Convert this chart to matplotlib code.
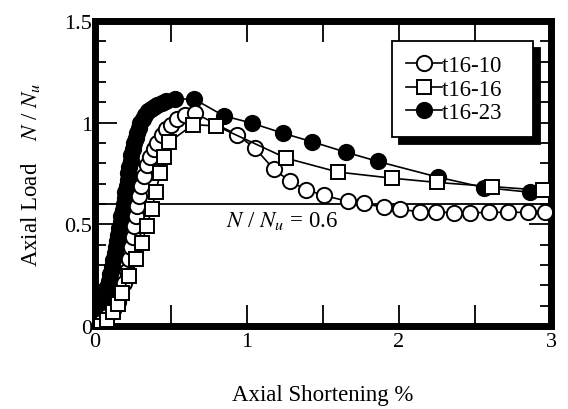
import matplotlib
matplotlib.use("Agg")
import matplotlib.pyplot as plt
from matplotlib.ticker import MultipleLocator, FuncFormatter

plt.rcParams['font.family'] = ['Liberation Serif', 'DejaVu Serif']
plt.rcParams['mathtext.fontset'] = 'stix'

# t16-10 (open circles)
x_10 = [0, 0.04, 0.08, 0.12, 0.15, 0.17, 0.19, 0.21, 0.225, 0.24, 0.25, 0.26, 0.27,
        0.28, 0.29, 0.305, 0.32, 0.34, 0.36, 0.39, 0.41, 0.44, 0.47, 0.50, 0.54, 0.594,
        0.66, 0.936, 1.054, 1.177, 1.285, 1.39, 1.507, 1.663, 1.769, 1.90, 2.01, 2.14,
        2.245, 2.36, 2.47, 2.59, 2.72, 2.85, 2.96]
y_10 = [0, 0.02, 0.05, 0.08, 0.12, 0.16, 0.21, 0.27, 0.33, 0.39, 0.44, 0.49, 0.54,
        0.59, 0.64, 0.69, 0.74, 0.79, 0.83, 0.87, 0.90, 0.94, 0.97, 0.99, 1.02, 1.038,
        1.046, 0.94, 0.874, 0.771, 0.711, 0.67, 0.642, 0.613, 0.603, 0.583, 0.575, 0.56,
        0.562, 0.556, 0.556, 0.559, 0.559, 0.559, 0.559]

# t16-16 (open squares)
x_16 = [0, 0.08, 0.12, 0.15, 0.18, 0.225, 0.27, 0.31, 0.34, 0.375, 0.40, 0.43, 0.455,
        0.49, 0.645, 0.80, 1.26, 1.60, 1.955, 2.25, 2.61, 2.95]
y_16 = [0, 0.03, 0.07, 0.11, 0.16, 0.245, 0.33, 0.41, 0.49, 0.576, 0.66, 0.75, 0.83,
        0.905, 0.99, 0.984, 0.825, 0.757, 0.727, 0.706, 0.686, 0.667]

# t16-23 (filled circles)
x_23 = [0, 0.02, 0.035, 0.05, 0.06, 0.07, 0.08, 0.09, 0.10, 0.11, 0.12, 0.13, 0.14,
        0.145, 0.155, 0.16, 0.17, 0.175, 0.185, 0.19, 0.195, 0.20, 0.21, 0.215, 0.22,
        0.225, 0.235, 0.24, 0.25, 0.26, 0.27, 0.28, 0.29, 0.30, 0.315, 0.33, 0.35, 0.37,
        0.39, 0.41, 0.44, 0.47, 0.524, 0.653, 0.847, 1.035, 1.238, 1.425, 1.65, 1.863,
        2.257, 2.56, 2.86]
y_23 = [0, 0.03, 0.07, 0.10, 0.13, 0.16, 0.19, 0.22, 0.255, 0.29, 0.325, 0.36, 0.39,
        0.42, 0.45, 0.48, 0.51, 0.54, 0.57, 0.60, 0.63, 0.66, 0.69, 0.72, 0.75, 0.78,
        0.81, 0.84, 0.87, 0.90, 0.925, 0.95, 0.975, 1.0, 1.02, 1.04, 1.055, 1.068,
        1.078, 1.087, 1.095, 1.105, 1.116, 1.116, 1.034, 0.997, 0.948, 0.907, 0.855, 0.809,
        0.732, 0.681, 0.658]

ref_level = 0.6

fig = plt.figure(figsize=(5.68, 4.10), dpi=100)
ax = fig.add_axes([0.167, 0.2024, 0.803, 0.744])

ax.axhline(ref_level, color='black', lw=1.3, zorder=1)

ms = 11
ax.plot(x_10, y_10, '-o', color='black', mfc='white', mec='black', mew=1.4, ms=ms, lw=1.2, label='t16-10   ', zorder=3)
ax.plot(x_16, y_16, '-s', color='black', mfc='white', mec='black', mew=1.4, ms=ms - 0.5, lw=1.2, label='t16-16   ', zorder=4)
ax.plot(x_23, y_23, '-o', color='black', mfc='black', mec='black', mew=1.4, ms=ms, lw=1.2, label='t16-23   ', zorder=2)

ax.text(0.86, 0.523, r'$N$ / $N_u$ = 0.6', fontsize=16.5, va='center', ha='left')

ax.set_xlim(0, 3)
ax.set_ylim(0, 1.5)
ax.xaxis.set_major_locator(MultipleLocator(1))
ax.xaxis.set_minor_locator(MultipleLocator(0.5))
ax.yaxis.set_major_locator(MultipleLocator(0.5))
ax.yaxis.set_minor_locator(MultipleLocator(0.1))
ax.yaxis.set_major_formatter(FuncFormatter(lambda v, p: f'{v:g}'))

ax.tick_params(which='both', direction='in', top=True, right=True, width=1.3, labelsize=16)
ax.tick_params(axis='x', which='both', length=15, pad=4)
ax.tick_params(axis='y', which='major', length=16, pad=2)
ax.tick_params(axis='y', which='minor', length=8)
for s in ax.spines.values():
    s.set_linewidth(5)

ax.set_xlabel('Axial Shortening %', fontsize=16.5, labelpad=24)
ax.set_ylabel(r'Axial Load    $N$ / $N_u$', fontsize=16.5, labelpad=16)

leg = ax.legend(loc='upper left', bbox_to_anchor=(0.651, 0.934), fontsize=16.5,
                frameon=True, fancybox=False, edgecolor='black', framealpha=1,
                handlelength=1.6, handletextpad=0.0, borderpad=0.6, labelspacing=0.12,
                borderaxespad=0, shadow={'color': 'black', 'alpha': 1, 'ox': 5, 'oy': -5})
leg.get_frame().set_linewidth(1.3)

fig.savefig('out.png', dpi=100)
